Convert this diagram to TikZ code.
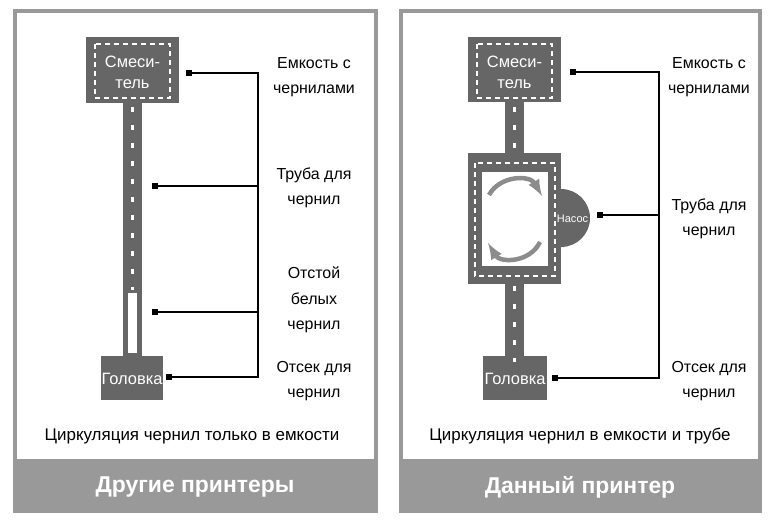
\documentclass[tikz,border=0pt]{standalone}
\usepackage{fontspec}
\setmainfont{Liberation Sans}
\usetikzlibrary{arrows}
\usetikzlibrary{positioning}
\definecolor{frame}{HTML}{999999}
\definecolor{body}{HTML}{666666}
\definecolor{swirlgray}{HTML}{8C8C8C}
\tikzstyle{base}=[x=1bp, y=-1bp, inner sep=0pt, outer sep=0pt]
\tikzstyle{panel}=[draw=frame, line width=4bp]
\tikzstyle{footer}=[fill=frame]
\tikzstyle{block}=[fill=body]
\tikzstyle{lane}=[white, line width=2bp, dash pattern=on 5bp off 4bp]
\tikzstyle{track}=[white, line width=2.5bp, dash pattern=on 5bp off 13bp]
\tikzstyle{tag}=[font=\fontsize{16}{25.5}\selectfont, align=center]
\tikzstyle{note}=[font=\fontsize{17}{20}\selectfont]
\tikzstyle{onblock}=[white, font=\fontsize{16.5}{21}\selectfont, align=center]
\tikzstyle{title}=[white, font=\fontsize{23}{26}\selectfont\bfseries]
\tikzstyle{plug}=[fill=black, minimum size=6bp]
\tikzstyle{wire}=[black, line width=1.2bp]
\tikzstyle{spin}=[swirlgray, line width=4.5bp, -latex]

\begin{document}
\begin{tikzpicture}[base]
    \path [use as bounding box] (0,0) rectangle (773,524);
    % other printers
    \fill [footer] (15,459) rectangle (375.5,511);
    \draw [panel] (15,11.5) rectangle (375.5,511);
    \fill [block] (123,100) rectangle (142,358);
    \fill [block] (86,37) rectangle (179,103);
    \fill [block] (101,356) rectangle (163,400);
    \draw [lane] (95,44) rectangle (170,98);
    \draw [track] (132.5,107) -- (132.5,290);
    \fill [white] (128,293) rectangle (137,353);
    \node [onblock] (mixL) at (132.5,72) {Смеси-\\тель};
    \node [onblock] (headL) at (132,379) {Головка};
    \node [plug] (pL1) at (189,73) {};
    \node [plug] (pL2) at (155,186) {};
    \node [plug] (pL3) at (155,312) {};
    \node [plug] (pL4) at (169,377) {};
    \coordinate (bL1) at (258,73);
    \coordinate (bL2) at (258,186);
    \coordinate (bL3) at (258,312);
    \coordinate (bL4) at (258,377);
    \draw [wire] (pL1) -- (bL1) -- (bL4) -- (pL4);
    \draw [wire] (pL2) -- (bL2);
    \draw [wire] (pL3) -- (bL3);
    \node [tag] (tL1) at (314,77) {Емкость с\\чернилами};
    \node [tag] (tL2) at (314,188) {Труба для\\чернил};
    \node [tag] (tL3) at (314,300) {Отстой\\белых\\чернил};
    \node [tag] (tL4) at (314,381) {Отсек для\\чернил};
    \node [note] (noteL) at (192,436) {Циркуляция чернил только в емкости};
    \node [title] (headerL) at (195,487) {Другие принтеры};
    % this printer
    \fill [footer] (400.5,459) rectangle (760,511);
    \draw [panel] (400.5,11.5) rectangle (760,511);
    \fill [block] (505,100) rectangle (524,358);
    \fill [block] (468,37) rectangle (561,102);
    \fill [block] (468,153) rectangle (561,284);
    \fill [block] (561,189) arc [start angle=90, end angle=-90, radius=29bp] -- cycle;
    \fill [block] (483,356) rectangle (547,400);
    \fill [white] (482,172) rectangle (548,266);
    \draw [lane] (477,44) rectangle (552,98);
    \draw [lane] (475,163) rectangle (555,276);
    \draw [track] (514.5,107) -- (514.5,150);
    \draw [track] (514.5,286) -- (514.5,362);
    \draw [spin] (489,195) .. controls (500,175) and (530,175) .. (542,196);
    \draw [spin] (540,242) .. controls (530,263) and (500,263) .. (488,243);
    \node [onblock] (mixR) at (514.5,72) {Смеси-\\тель};
    \node [onblock, font=\fontsize{11}{13}\selectfont] (pumpR) at (572.5,219) {Насос};
    \node [onblock] (headR) at (515,379) {Головка};
    \node [plug] (pR1) at (573,72) {};
    \node [plug] (pR2) at (600,215) {};
    \node [plug] (pR3) at (555,378) {};
    \coordinate (bR1) at (659,72);
    \coordinate (bR2) at (659,215);
    \coordinate (bR3) at (659,378);
    \draw [wire] (pR1) -- (bR1) -- (bR3) -- (pR3);
    \draw [wire] (pR2) -- (bR2);
    \node [tag] (tR1) at (709,77) {Емкость с\\чернилами};
    \node [tag] (tR2) at (709,219) {Труба для\\чернил};
    \node [tag] (tR3) at (709,381) {Отсек для\\чернил};
    \node [note] (noteR) at (580,436) {Циркуляция чернил в емкости и трубе};
    \node [title] (headerR) at (580,487) {Данный принтер};
\end{tikzpicture}
\end{document}
